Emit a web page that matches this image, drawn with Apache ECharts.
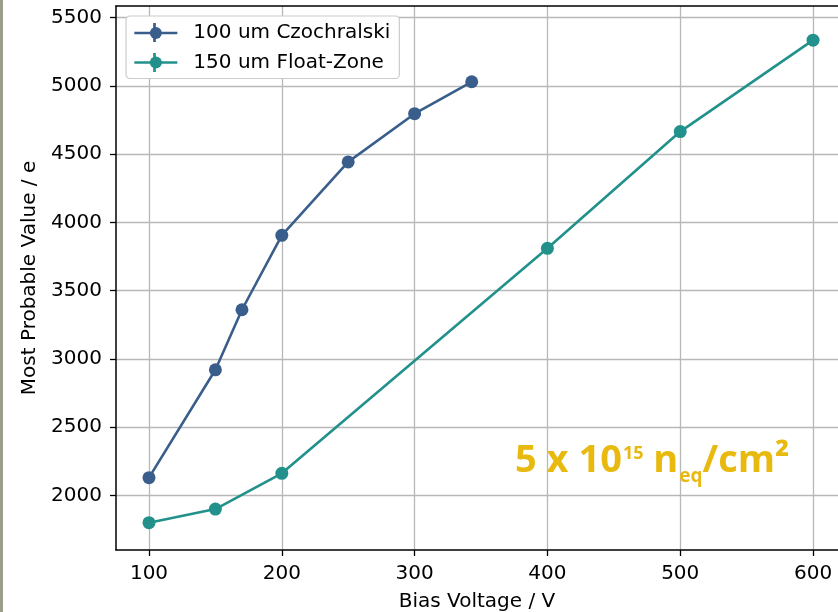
<!DOCTYPE html>
<html>
<head>
<meta charset="utf-8">
<script src="https://cdn.jsdelivr.net/npm/echarts@6/dist/echarts.min.js"></script>
<style>html,body{margin:0;padding:0;background:#fff;}#c{width:838px;height:612px;}</style>
</head>
<body>
<div id="c"></div>
<script>
// ---- data ----
const czVoltage = [100, 150, 170, 200, 250, 300, 343];
const czMPV     = [2130, 2920, 3360, 3905, 4443, 4796, 5030];
const fzVoltage = [100, 150, 200, 400, 500, 600];
const fzMPV     = [1800, 1900, 2162, 3810, 4665, 5335];
const xTicks = [100, 200, 300, 400, 500, 600];
const yTicks = [2000, 2500, 3000, 3500, 4000, 4500, 5000, 5500];
const seriesNames = ['100 um Czochralski', '150 um Float-Zone'];
const colors = ['#3a5e8c', '#22918b'];

const pair = (xs, ys) => xs.map((x, i) => [x, ys[i]]);
const font = 'DejaVu Sans';
const plain = v => String(v);

const chart = echarts.init(document.getElementById('c'), null, {renderer: 'canvas'});
chart.setOption({
  animation: false,
  backgroundColor: '#fff',
  grid: {left: 116, top: 6, right: 0, bottom: 62, show: false, containLabel: false, outerBoundsMode: 'none'},
  xAxis: [{
    type: 'value', min: 75.15, max: 618.8,
    name: 'Bias Voltage / V', nameLocation: 'middle', nameGap: 42,
    nameTextStyle: {fontFamily: font, fontSize: 20, color: '#000'},
    axisLine: {show: true, onZero: false, lineStyle: {color: '#000', width: 1.5}},
    axisTick: {show: true, inside: false, length: 6, lineStyle: {color: '#000', width: 1.3}, customValues: xTicks},
    axisLabel: {fontFamily: font, fontSize: 20, color: '#000', margin: 14, customValues: xTicks, formatter: plain},
    splitLine: {show: true, lineStyle: {color: '#b8b8b8', width: 1.3}}
  }, {
    type: 'value', min: 75.15, max: 618.8, position: 'top',
    axisLine: {show: true, onZero: false, lineStyle: {color: '#000', width: 1.5}},
    axisTick: {show: false}, axisLabel: {show: false}, splitLine: {show: false}
  }],
  yAxis: {
    type: 'value', min: 1600, max: 5585,
    name: 'Most Probable Value / e', nameLocation: 'middle', nameGap: 75, nameRotate: 90,
    nameTextStyle: {fontFamily: font, fontSize: 20, color: '#000'},
    axisLine: {show: true, onZero: false, lineStyle: {color: '#000', width: 1.5}},
    axisTick: {show: true, inside: false, length: 6, lineStyle: {color: '#000', width: 1.3}, customValues: yTicks},
    axisLabel: {fontFamily: font, fontSize: 20, color: '#000', margin: 14, customValues: yTicks, formatter: plain},
    splitLine: {show: true, lineStyle: {color: '#b8b8b8', width: 1.3}}
  },
  legend: {
    orient: 'vertical', left: 126, top: 16,
    padding: [7, 9, 6, 7], itemGap: 9.5, itemWidth: 43, itemHeight: 15,
    backgroundColor: '#fff', borderColor: '#cccccc', borderWidth: 1.2, borderRadius: 4,
    lineStyle: {width: 2.7},
    textStyle: {fontFamily: font, fontSize: 20, color: '#000', lineHeight: 20, padding: [0, 0, 0, 11]},
    data: seriesNames
  },
  series: [
    {name: seriesNames[0], type: 'line', data: pair(czVoltage, czMPV), color: colors[0],
     symbol: 'circle', symbolSize: 13, lineStyle: {width: 2.6}, itemStyle: {color: colors[0]}, z: 3},
    {name: seriesNames[1], type: 'line', data: pair(fzVoltage, fzMPV), color: colors[1],
     symbol: 'circle', symbolSize: 13, lineStyle: {width: 2.6}, itemStyle: {color: colors[1]}, z: 3}
  ],
  graphic: [
    {type: 'rect', left: 0, top: 0, shape: {width: 3, height: 612}, style: {fill: '#9d9d8c'}, z: 100},
    {type: 'line', shape: {x1: 154.5, y1: 23, x2: 154.5, y2: 42}, style: {stroke: colors[0], lineWidth: 2.7}, z: 100},
    {type: 'line', shape: {x1: 154.5, y1: 53, x2: 154.5, y2: 72}, style: {stroke: colors[1], lineWidth: 2.7}, z: 100},
    {type: 'text', left: 515, top: 436, z: 50,
     style: {
       text: '{a|5 x 10}{s|15}{a| n}{b|eq}{a|/cm²}',
       rich: {
         a: {fontFamily: 'Open Sans', fontWeight: 'bold', fontSize: 38, fill: '#e8b90f', lineHeight: 50, verticalAlign: 'middle'},
         s: {fontFamily: 'Open Sans', fontWeight: 'bold', fontSize: 18, fill: '#e8b90f', lineHeight: 50, verticalAlign: 'top', padding: [9, 0, 0, 1]},
         b: {fontFamily: 'Open Sans', fontWeight: 'bold', fontSize: 19, fill: '#e8b90f', lineHeight: 50, verticalAlign: 'bottom', padding: [0, 0, 0, 1]}
       }
     }}
  ]
});
</script>
</body>
</html>
